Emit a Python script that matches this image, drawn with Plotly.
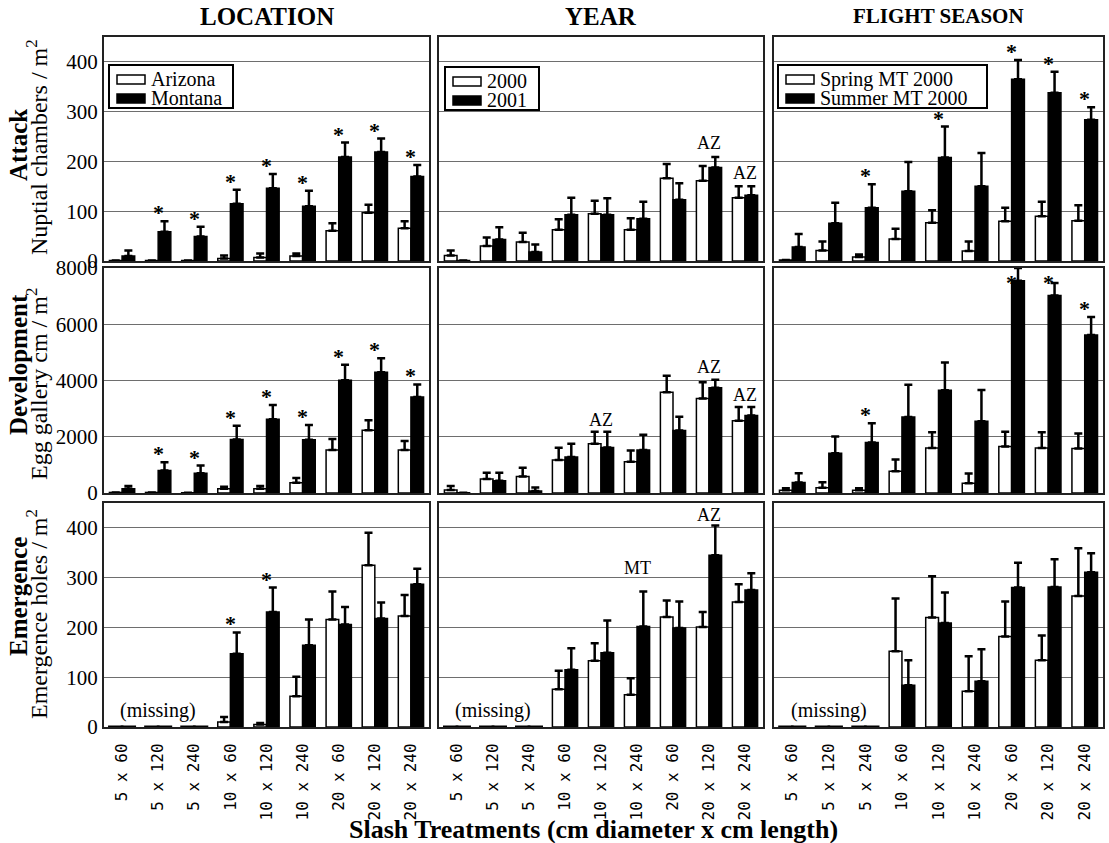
import plotly.graph_objects as go

W, H = 1109, 843

treatments = ["5 x 60", "5 x 120", "5 x 240", "10 x 60", "10 x 120",
              "10 x 240", "20 x 60", "20 x 120", "20 x 240"]

# ---------------- Attack (nuptial chambers / m2) ----------------
att_loc_az = [1, 1, 1, 5, 7, 10, 61, 97, 66]
att_loc_az_se = [0, 0, 0, 6, 8, 5, 15, 16, 14]
att_loc_mt = [10, 59, 49, 115, 146, 110, 209, 219, 170]
att_loc_mt_se = [11, 21, 20, 28, 29, 31, 29, 27, 23]

att_yr_2000 = [11, 30, 38, 63, 95, 63, 166, 161, 127]
att_yr_2000_se = [10, 17, 19, 21, 26, 23, 29, 30, 23]
att_yr_2001 = [1, 43, 18, 93, 93, 85, 123, 188, 132]
att_yr_2001_se = [0, 25, 15, 34, 33, 34, 33, 21, 18]

att_fs_spring = [2, 21, 8, 44, 77, 20, 80, 90, 81]
att_fs_spring_se = [0, 18, 5, 21, 25, 19, 27, 29, 31]
att_fs_summer = [28, 76, 107, 140, 208, 150, 365, 338, 284]
att_fs_summer_se = [26, 41, 47, 59, 62, 67, 39, 42, 25]

# ---------------- Development (egg gallery cm / m2) ----------------
dev_loc_az = [20, 20, 10, 150, 150, 365, 1530, 2235, 1530]
dev_loc_az_se = [0, 0, 0, 70, 100, 165, 390, 355, 320]
dev_loc_mt = [150, 800, 705, 1905, 2620, 1890, 4010, 4290, 3410]
dev_loc_mt_se = [100, 290, 270, 485, 510, 530, 550, 500, 450]

dev_yr_2000 = [105, 500, 590, 1170, 1750, 1110, 3585, 3360, 2570]
dev_yr_2000_se = [145, 220, 310, 440, 430, 400, 580, 580, 490]
dev_yr_2001 = [10, 440, 70, 1280, 1620, 1530, 2225, 3740, 2755]
dev_yr_2001_se = [0, 280, 130, 470, 560, 540, 485, 290, 305]

dev_fs_spring = [100, 190, 100, 770, 1600, 350, 1650, 1600, 1580]
dev_fs_spring_se = [70, 195, 70, 420, 560, 340, 530, 560, 540]
dev_fs_summer = [375, 1410, 1795, 2700, 3650, 2555, 7545, 7025, 5615]
dev_fs_summer_se = [325, 600, 685, 1145, 990, 1110, 455, 445, 640]

# ---------------- Emergence (emergence holes / m2) ----------------
# None = missing data
emg_loc_az = [None, None, None, 10, 5, 62, 216, 325, 223]
emg_loc_az_se = [0, 0, 0, 10, 3, 39, 56, 65, 42]
emg_loc_mt = [None, None, None, 147, 231, 164, 206, 218, 287]
emg_loc_mt_se = [0, 0, 0, 43, 49, 52, 35, 32, 31]

emg_yr_2000 = [None, None, None, 76, 133, 65, 221, 201, 251]
emg_yr_2000_se = [0, 0, 0, 37, 35, 33, 33, 30, 36]
emg_yr_2001 = [None, None, None, 115, 149, 202, 199, 345, 275]
emg_yr_2001_se = [0, 0, 0, 43, 65, 70, 53, 60, 34]

emg_fs_spring = [None, None, None, 152, 220, 72, 182, 134, 263]
emg_fs_spring_se = [0, 0, 0, 106, 83, 70, 70, 50, 96]
emg_fs_summer = [None, None, None, 84, 209, 92, 280, 281, 311]
emg_fs_summer_se = [0, 0, 0, 50, 61, 64, 50, 56, 38]

# significance stars (treatment indices) on the second series
stars = {
    (0, 0): [1, 2, 3, 4, 5, 6, 7, 8],
    (0, 2): [2, 4, 6, 7, 8],
    (1, 0): [1, 2, 3, 4, 5, 6, 7, 8],
    (1, 2): [2, 6, 7, 8],
    (2, 0): [3, 4],
}
# text labels: (row, col, treatment index, y, text)
labels = [
    (0, 1, 7, 238, "AZ"), (0, 1, 8, 177, "AZ"),
    (1, 1, 4, 2580, "AZ"), (1, 1, 7, 4470, "AZ"), (1, 1, 8, 3490, "AZ"),
    (2, 1, 5, 320, "MT"), (2, 1, 7, 425, "AZ"),
    (2, 0, 1, 33, "(missing)"), (2, 1, 1, 33, "(missing)"), (2, 2, 1, 33, "(missing)"),
]

col_titles = ["LOCATION", "YEAR", "FLIGHT SEASON"]
series_names = [("Arizona", "Montana"), ("2000", "2001"),
                ("Spring MT 2000", "Summer MT 2000")]
row_titles = [("Attack", "Nuptial chambers / m<sup>2</sup>"),
              ("Development", "Egg gallery cm / m<sup>2</sup>"),
              ("Emergence", "Emergence holes / m<sup>2</sup>")]
y_ranges = [(0, 450, 100), (0, 8000, 2000), (0, 450, 100)]

panels = {
    (0, 0): (att_loc_az, att_loc_az_se, att_loc_mt, att_loc_mt_se),
    (0, 1): (att_yr_2000, att_yr_2000_se, att_yr_2001, att_yr_2001_se),
    (0, 2): (att_fs_spring, att_fs_spring_se, att_fs_summer, att_fs_summer_se),
    (1, 0): (dev_loc_az, dev_loc_az_se, dev_loc_mt, dev_loc_mt_se),
    (1, 1): (dev_yr_2000, dev_yr_2000_se, dev_yr_2001, dev_yr_2001_se),
    (1, 2): (dev_fs_spring, dev_fs_spring_se, dev_fs_summer, dev_fs_summer_se),
    (2, 0): (emg_loc_az, emg_loc_az_se, emg_loc_mt, emg_loc_mt_se),
    (2, 1): (emg_yr_2000, emg_yr_2000_se, emg_yr_2001, emg_yr_2001_se),
    (2, 2): (emg_fs_spring, emg_fs_spring_se, emg_fs_summer, emg_fs_summer_se),
}

# ---------------- layout geometry (pixels) ----------------
col_px = [(104, 429), (439, 763), (774, 1103)]
row_px = [(37, 261), (268, 493), (503, 727)]
legend_box = [(109, 65, 124), (445, 67, 94), (778, 65, 209)]  # left, top, width
LEG_H = 43
header_size = [25, 25, 21]
ytitle_bold_yc = [145, 365, 597]
ytitle_reg_yc = [147, 384, 614]

SERIF = "Liberation Serif"
BARGAP = 0.3
half = (1 - BARGAP) / 4  # offset of each bar centre from the group centre


def px(x):
    return x / W


def py(y):
    return 1 - y / H


fig = go.Figure()
layout = dict(template="none", width=W, height=H,
              margin=dict(l=0, r=0, t=0, b=0, autoexpand=False),
              paper_bgcolor="white", plot_bgcolor="white",
              barmode="group", bargap=BARGAP, bargroupgap=0, showlegend=False,
              font=dict(family=SERIF, color="black"))
annotations = []
shapes = []

xs = list(range(len(treatments)))
for (r, c), (m1, s1, m2, s2) in panels.items():
    p = r * 3 + c
    sfx = "" if p == 0 else str(p + 1)
    xa, ya = "x" + sfx, "y" + sfx
    n1, n2 = series_names[c]
    for vals, se, name, fill in ((m1, s1, n1, "white"), (m2, s2, n2, "black")):
        fig.add_trace(go.Bar(
            x=xs, y=vals, name=name, xaxis=xa, yaxis=ya,
            marker=dict(color=fill, line=dict(color="black", width=1.5)),
            error_y=dict(type="data", array=se, arrayminus=[0] * len(se),
                         symmetric=False, color="black", thickness=2.5, width=4),
        ))
    # missing values drawn as dashes on the baseline
    miss = [i for i, v in enumerate(m1) if v is None]
    if miss:
        mx = []
        for i in miss:
            mx += [i - half, i + half]
        fig.add_trace(go.Scatter(
            x=mx, y=[0] * len(mx), xaxis=xa, yaxis=ya, mode="markers",
            marker=dict(symbol="line-ew", size=11, line=dict(color="black", width=3)),
            cliponaxis=False, hoverinfo="skip", name="missing"))

    y0, y1, dt = y_ranges[r]
    x0p, x1p = col_px[c]
    t0p, b0p = row_px[r]
    layout["xaxis" + sfx] = dict(
        domain=[px(x0p), px(x1p)], anchor=ya, range=[-0.5, len(xs) - 0.5],
        automargin=False,
        tickmode="array", tickvals=xs, ticktext=treatments,
        showticklabels=(r == 2), tickangle=-90, ticklabelstandoff=8,
        tickfont=dict(family="DejaVu Sans Mono", size=16, color="black"),
        showgrid=False, zeroline=False, ticks="",
        showline=True, mirror=True, linecolor="#222", linewidth=2)
    layout["yaxis" + sfx] = dict(
        domain=[py(b0p), py(t0p)], anchor=xa, range=[y0, y1], dtick=dt,
        automargin=False,
        showticklabels=(c == 0), tickfont=dict(family=SERIF, size=21, color="black"),
        showgrid=True, gridcolor="#6e6e6e", gridwidth=1, zeroline=False, ticks="",
        showline=True, mirror=True, linecolor="#222", linewidth=2)

    # stars
    for i in stars.get((r, c), []):
        top = m2[i] + s2[i]
        if top > 0.93 * y1:
            annotations.append(dict(x=i, y=y1, xref=xa, yref=ya, text="<b>*</b>",
                                    showarrow=False, xanchor="center", yanchor="top",
                                    yshift=0, font=dict(size=22, family=SERIF)))
        else:
            annotations.append(dict(x=i, y=top, xref=xa, yref=ya, text="<b>*</b>",
                                    showarrow=False, xanchor="center", yanchor="bottom",
                                    yshift=-6, font=dict(size=22, family=SERIF)))

for (r, c, i, yv, txt) in labels:
    p = r * 3 + c
    sfx = "" if p == 0 else str(p + 1)
    annotations.append(dict(x=i, y=yv, xref="x" + sfx, yref="y" + sfx, text=txt,
                            showarrow=False, xanchor="center", yanchor="middle",
                            font=dict(size=20 if txt.startswith("(") else 18,
                                      family=SERIF)))

# column headers
for c, t in enumerate(col_titles):
    annotations.append(dict(x=px((col_px[c][0] + col_px[c][1]) / 2), y=py(16),
                            xref="paper", yref="paper", text="<b>%s</b>" % t,
                            showarrow=False, xanchor="center", yanchor="middle",
                            font=dict(size=header_size[c], family=SERIF)))
# row (y axis) titles
for r, (bold, reg) in enumerate(row_titles):
    annotations.append(dict(x=px(18), y=py(ytitle_bold_yc[r]), xref="paper", yref="paper",
                            text="<b>%s</b>" % bold, textangle=-90, showarrow=False,
                            xanchor="center", yanchor="middle",
                            font=dict(size=25, family=SERIF)))
    annotations.append(dict(x=px(37), y=py(ytitle_reg_yc[r]), xref="paper", yref="paper",
                            text=reg, textangle=-90, showarrow=False,
                            xanchor="center", yanchor="middle",
                            font=dict(size=24, family=SERIF)))
# x axis title
annotations.append(dict(x=px(593), y=py(829), xref="paper", yref="paper",
                        text="<b>Slash Treatments (cm diameter x cm length)</b>",
                        showarrow=False, xanchor="center", yanchor="middle",
                        font=dict(size=26, family=SERIF)))

# legends (one per column, framed box with wide bar swatches)
for c, (lx, ly, lw) in enumerate(legend_box):
    shapes.append(dict(type="rect", xref="paper", yref="paper",
                       x0=px(lx), x1=px(lx + lw), y0=py(ly + LEG_H), y1=py(ly),
                       line=dict(color="black", width=2), fillcolor="white", layer="above"))
    for k, (name, fill) in enumerate(zip(series_names[c], ("white", "black"))):
        yc = ly + 14 + k * 19
        shapes.append(dict(type="rect", xref="paper", yref="paper",
                           x0=px(lx + 8), x1=px(lx + 36), y0=py(yc + 5), y1=py(yc - 4),
                           line=dict(color="black", width=1.5), fillcolor=fill,
                           layer="above"))
        annotations.append(dict(x=px(lx + 40), y=py(yc), xref="paper", yref="paper",
                                text=name, showarrow=False, xanchor="left",
                                yanchor="middle", font=dict(size=20, family=SERIF)))

layout["annotations"] = annotations
layout["shapes"] = shapes

fig.update_layout(**layout)
fig.write_html("out.html", config={"displayModeBar": False},
               post_script="document.body.style.margin='0px';"
                           "document.body.style.overflow='hidden';")
